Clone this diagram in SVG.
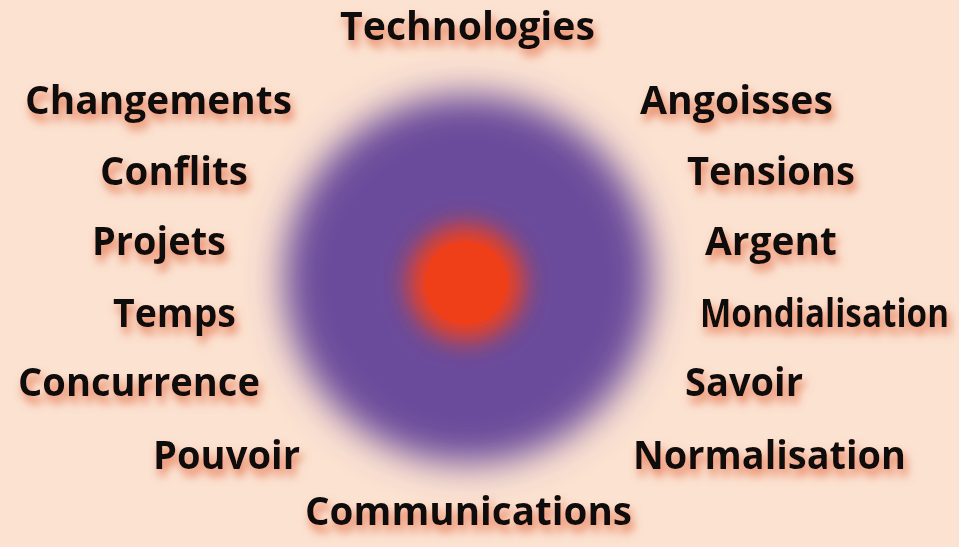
<svg xmlns="http://www.w3.org/2000/svg" width="959" height="547" viewBox="0 0 959 547">
<style>
.lbl{font-family:"Open Sans","Noto Sans","Liberation Sans",sans-serif;font-weight:700;font-size:39px;fill:#0a0a0a;filter:url(#sh)}
</style>
<defs>
<filter id="sh" x="-20%" y="-60%" width="140%" height="220%">
<feDropShadow dx="3" dy="7" stdDeviation="5" flood-color="#e2683f" flood-opacity="0.85"/>
</filter>
<filter id="bigblur" x="-30%" y="-30%" width="160%" height="160%"><feGaussianBlur stdDeviation="18"/></filter>
<filter id="smallblur" x="-60%" y="-60%" width="220%" height="220%"><feGaussianBlur stdDeviation="12"/></filter>
</defs>
<rect width="959" height="547" fill="#fbe2d1"/>
<g id="sphere">
<circle cx="468" cy="279" r="184" fill="#6b4b9b" filter="url(#bigblur)"/>
<circle cx="466" cy="283" r="58" fill="#ef3f1b" filter="url(#smallblur)"/>
<circle cx="466" cy="283" r="42" fill="#ef3f18"/>
</g>
<g id="connectors"></g>
<g id="n-technologies"><text class="lbl" x="340" y="40" textLength="255" lengthAdjust="spacingAndGlyphs">Technologies</text></g>
<g id="n-changements"><text class="lbl" x="25" y="114" textLength="267" lengthAdjust="spacingAndGlyphs">Changements</text></g>
<g id="n-conflits"><text class="lbl" x="100" y="185" textLength="148" lengthAdjust="spacingAndGlyphs">Conflits</text></g>
<g id="n-projets"><text class="lbl" x="92" y="255" textLength="134" lengthAdjust="spacingAndGlyphs">Projets</text></g>
<g id="n-temps"><text class="lbl" x="113" y="327" textLength="123" lengthAdjust="spacingAndGlyphs">Temps</text></g>
<g id="n-concurrence"><text class="lbl" x="18" y="396" textLength="242" lengthAdjust="spacingAndGlyphs">Concurrence</text></g>
<g id="n-pouvoir"><text class="lbl" x="153" y="469" textLength="147" lengthAdjust="spacingAndGlyphs">Pouvoir</text></g>
<g id="n-communications"><text class="lbl" x="305" y="525" textLength="327" lengthAdjust="spacingAndGlyphs">Communications</text></g>
<g id="n-angoisses"><text class="lbl" x="640" y="114" textLength="193" lengthAdjust="spacingAndGlyphs">Angoisses</text></g>
<g id="n-tensions"><text class="lbl" x="687" y="185" textLength="168" lengthAdjust="spacingAndGlyphs">Tensions</text></g>
<g id="n-argent"><text class="lbl" x="705" y="255" textLength="132" lengthAdjust="spacingAndGlyphs">Argent</text></g>
<g id="n-mondialisation"><text class="lbl" x="700" y="327" textLength="249" lengthAdjust="spacingAndGlyphs">Mondialisation</text></g>
<g id="n-savoir"><text class="lbl" x="685" y="396" textLength="118" lengthAdjust="spacingAndGlyphs">Savoir</text></g>
<g id="n-normalisation"><text class="lbl" x="633" y="469" textLength="273" lengthAdjust="spacingAndGlyphs">Normalisation</text></g>
</svg>
